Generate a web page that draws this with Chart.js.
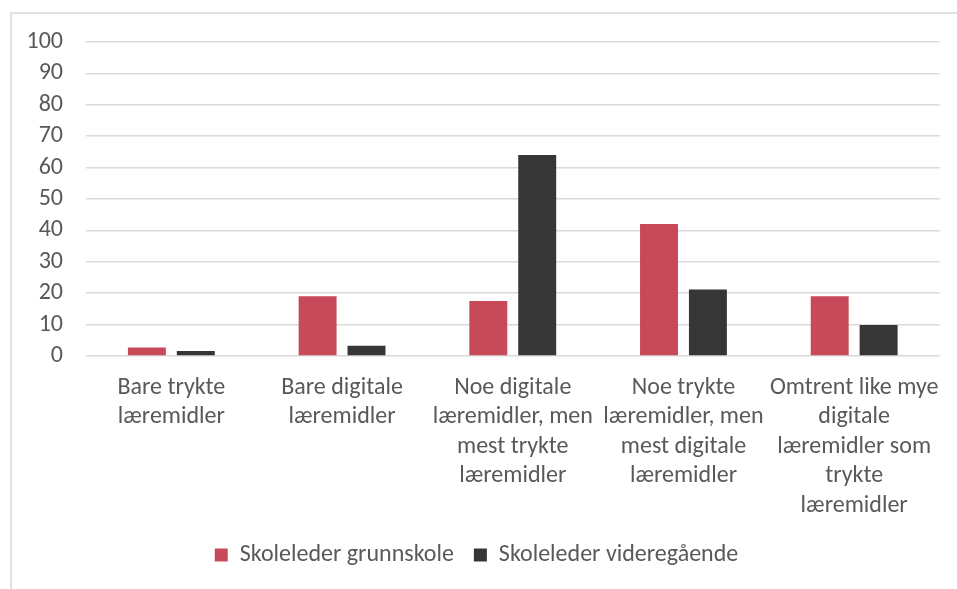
<!DOCTYPE html>
<html>
<head>
<meta charset="utf-8">
<script src="https://cdn.jsdelivr.net/npm/chart.js@4.4.1/dist/chart.umd.min.js"></script>
<style>
  html, body { margin: 0; padding: 0; background: #fff; overflow: hidden; }
  #wrap { position: relative; width: 957px; height: 589px; }
  #frame { position: absolute; left: 10px; top: 12px; width: 960px; height: 600px; border: 2px solid #e0e0e0; box-sizing: border-box; }
  canvas { position: absolute; left: 0; top: 0; }
</style>
</head>
<body>
<div id="wrap">
  <div id="frame"></div>
  <canvas id="myChart" width="957" height="589"></canvas>
</div>
<script>
const categories = [
    ['Bare trykte', 'læremidler'],
    ['Bare digitale', 'læremidler'],
    ['Noe digitale', 'læremidler, men', 'mest trykte', 'læremidler'],
    ['Noe trykte', 'læremidler, men', 'mest digitale', 'læremidler'],
    ['Omtrent like mye', 'digitale', 'læremidler som', 'trykte', 'læremidler']
];
const seriesNames = ['Skoleleder grunnskole', 'Skoleleder videregående'];
const grunnskole    = [2.7, 19.0, 17.5, 42.0, 19.0];
const videregaende  = [1.6, 3.3, 64.0, 21.2, 9.9];
const yTicks = { min: 0, max: 100, step: 10 };

const COLORS = ['#c84a5a', '#363636'];
const TEXT = '#595959';
const FONT = 'Carlito, Calibri, Lato, sans-serif';

const ctx = document.getElementById('myChart').getContext('2d');
new Chart(ctx, {
    type: 'bar',
    data: {
        labels: categories,
        datasets: [
            { label: seriesNames[0], data: grunnskole,   backgroundColor: COLORS[0] },
            { label: seriesNames[1], data: videregaende, backgroundColor: COLORS[1] }
        ]
    },
    options: {
        responsive: false,
        animation: false,
        categoryPercentage: 0.573,
        barPercentage: 0.776,
        layout: { padding: { left: 12, right: 16, top: 42, bottom: 12 } },
        plugins: {
            legend: {
                position: 'bottom',
                labels: {
                    color: TEXT,
                    font: { family: FONT, size: 24 },
                    boxWidth: 13,
                    boxHeight: 13,
                    padding: 20
                }
            },
            tooltip: { enabled: false }
        },
        scales: {
            y: {
                min: yTicks.min,
                max: yTicks.max,
                ticks: {
                    stepSize: yTicks.step,
                    autoSkip: false,
                    color: TEXT,
                    font: { family: FONT, size: 24 },
                    padding: 23
                },
                grid: { color: '#d9d9d9', lineWidth: 1.5, drawTicks: false },
                border: { display: false },
                afterFit: s => { s.width = 74; }
            },
            x: {
                ticks: {
                    color: TEXT,
                    font: { family: FONT, size: 24, lineHeight: 1.23 },
                    padding: 17,
                    maxRotation: 0,
                    autoSkip: false
                },
                grid: { display: false, drawTicks: false },
                border: { display: false },
                afterFit: s => { s.height = 167; }
            }
        }
    }
});
</script>
</body>
</html>
